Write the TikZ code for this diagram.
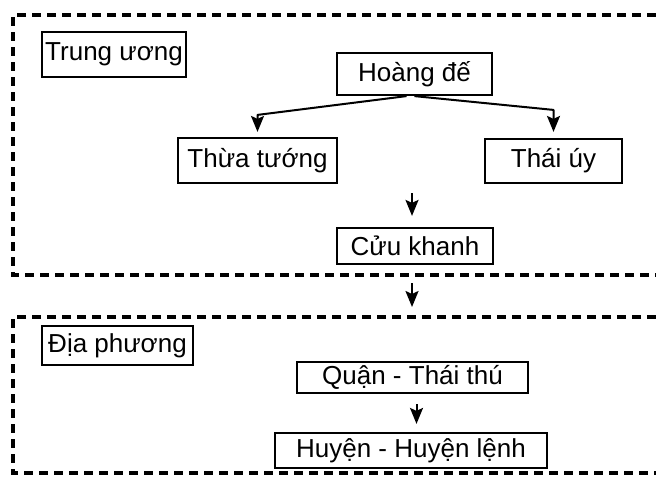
\documentclass[tikz,border=0pt]{standalone}
\usepackage{fontspec}
\setmainfont{Liberation Sans}
\usetikzlibrary{arrows.meta}
\usepackage{xcolor}

\tikzset{
  box/.style={draw, line width=1.1pt, inner sep=0pt, align=center,
    font=\fontsize{13}{15}\selectfont},
  arr/.style={line width=1pt, line join=round, -{Stealth[length=8pt,width=6.5pt,inset=1.5pt]}},
  zone/.style={line width=1.6pt, dash pattern=on 4.5pt off 3pt}
}

\begin{document}
\begin{tikzpicture}[x=0.5pt,y=-0.5pt]
\useasboundingbox (0,0) rectangle (656,477);

% --- Dashed zones (open to the right) ---
\draw[zone] (656,15) -| (13,275) -- (656,275);
\draw[zone] (656,317) -| (13,473) -- (656,473);

% --- Trung uong ---
\node[box, minimum width=72pt, minimum height=22.5pt] (tw) at (114,54.5) {Trung ương};
\node[box, minimum width=77.5pt, minimum height=21pt] (hoang) at (414.5,74) {Hoàng đế};
\node[box, minimum width=79.5pt, minimum height=22.5pt] (thua) at (257.5,160.5) {Thừa tướng};
\node[box, minimum width=68.5pt, minimum height=22pt] (thai) at (553.5,161) {Thái úy};
\node[box, minimum width=78pt, minimum height=18pt] (cuu) at (415,246) {Cửu khanh};

\draw[arr, shorten >=2.5pt] ([xshift=-4pt]hoang.south) -- ([yshift=11pt]thua.north) -- (thua.north);
\draw[arr, shorten >=3pt] (hoang.south) -- ([yshift=14pt]thai.north) -- (thai.north);

\coordinate (cuuin) at (412,193);
\draw[arr, shorten >=5.5pt] (cuuin) -- (cuuin |- cuu.north);

% --- between the zones ---
\coordinate (twout) at (412,275);
\coordinate (dpin) at (412,317);
\draw[arr, shorten <=4pt, shorten >=5pt] (twout) -- (dpin);

% --- Dia phuong ---
\node[box, minimum width=75.5pt, minimum height=19.5pt] (dp) at (117.5,345.5) {Địa phương};
\node[box, minimum width=115.5pt, minimum height=15.5pt] (quan) at (412.5,377.5) {Quận - Thái thú};
\node[box, minimum width=136pt, minimum height=17.5pt] (huyen) at (411,450.5) {Huyện - Huyện lệnh};

\draw[arr, shorten <=5pt, shorten >=4pt] ([xshift=2pt]quan.south) -- ([xshift=2pt]quan.south |- huyen.north);
\end{tikzpicture}
\end{document}
